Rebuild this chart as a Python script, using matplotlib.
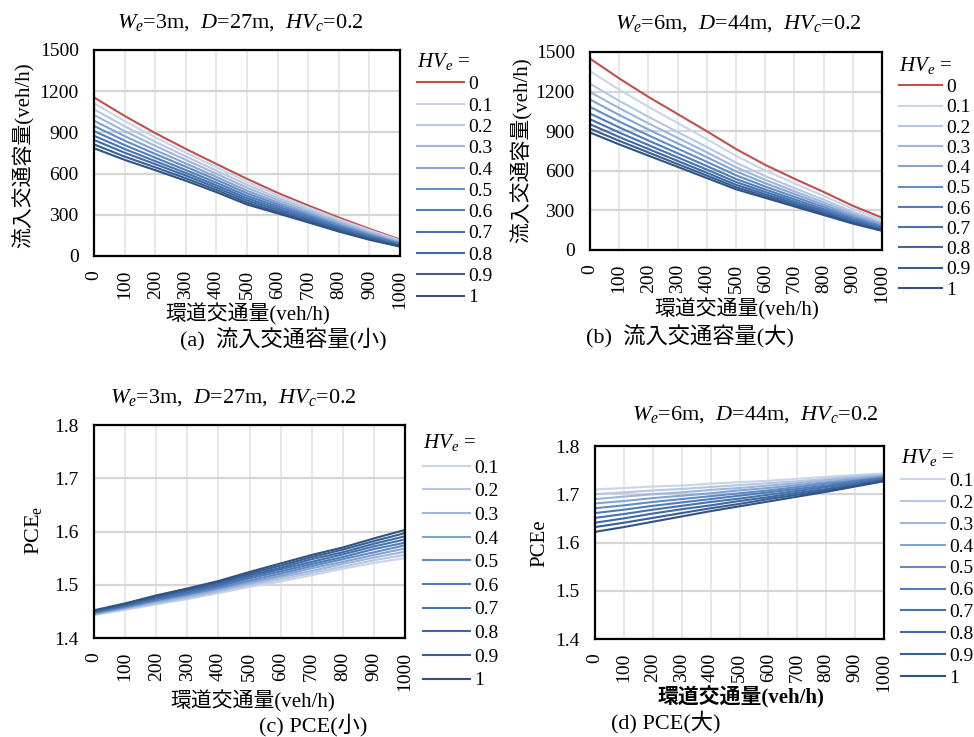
import matplotlib
matplotlib.use('Agg')
import matplotlib.pyplot as plt
import numpy as np

plt.rcParams['font.family'] = ['Liberation Serif', 'Noto Sans CJK JP']
plt.rcParams['mathtext.fontset'] = 'custom'
plt.rcParams['mathtext.rm'] = 'Liberation Serif'
plt.rcParams['mathtext.it'] = 'Liberation Serif:italic'

# ── DATA ────────────────────────────────────────────
flow = [0, 100, 200, 300, 400, 500, 600, 700, 800, 900, 1000]
hv_all = ['0', '0.1', '0.2', '0.3', '0.4', '0.5', '0.6', '0.7', '0.8', '0.9', '1']
hv_pce = hv_all[1:]

cap_small = [
    [1155, 1020, 895, 780, 670, 562, 460, 368, 280, 198, 120],
    [1112, 983, 864, 753, 646, 540, 443, 354, 268, 189, 114],
    [1068, 945, 832, 725, 622, 518, 425, 339, 256, 179, 108],
    [1027, 909, 802, 700, 599, 497, 408, 325, 245, 170, 102],
    [985, 873, 771, 674, 576, 476, 391, 312, 233, 161, 96],
    [947, 840, 743, 650, 555, 457, 376, 299, 223, 153, 91],
    [910, 808, 716, 626, 534, 438, 361, 287, 212, 145, 86],
    [876, 779, 691, 605, 515, 421, 347, 275, 203, 138, 81],
    [845, 752, 669, 586, 498, 405, 334, 265, 195, 131, 76],
    [813, 724, 646, 566, 481, 389, 321, 254, 186, 124, 72],
    [785, 700, 625, 548, 465, 375, 310, 245, 178, 118, 68],
]

cap_large = [
    [1450, 1300, 1160, 1030, 900, 765, 645, 540, 440, 335, 245],
    [1355, 1215, 1085, 962, 840, 713, 603, 505, 410, 312, 228],
    [1260, 1130, 1009, 894, 780, 662, 560, 469, 381, 289, 211],
    [1197, 1075, 959, 850, 740, 627, 532, 445, 361, 274, 200],
    [1140, 1023, 913, 808, 703, 596, 506, 424, 343, 260, 190],
    [1084, 973, 869, 768, 668, 566, 481, 403, 326, 247, 180],
    [1034, 929, 829, 733, 636, 538, 459, 384, 310, 235, 171],
    [991, 890, 795, 702, 609, 515, 440, 368, 297, 224, 163],
    [953, 856, 765, 675, 585, 494, 423, 354, 285, 215, 156],
    [920, 827, 739, 651, 564, 476, 408, 341, 274, 207, 150],
    [890, 800, 715, 630, 545, 460, 395, 330, 265, 200, 145],
]

pce_small = [
    [1.443, 1.453, 1.463, 1.473, 1.484, 1.496, 1.506, 1.518, 1.530, 1.541, 1.550],
    [1.444, 1.454, 1.465, 1.475, 1.487, 1.499, 1.510, 1.522, 1.534, 1.546, 1.556],
    [1.445, 1.456, 1.467, 1.477, 1.489, 1.502, 1.514, 1.526, 1.539, 1.551, 1.562],
    [1.446, 1.457, 1.469, 1.480, 1.492, 1.505, 1.517, 1.531, 1.543, 1.556, 1.568],
    [1.447, 1.458, 1.471, 1.482, 1.494, 1.508, 1.521, 1.535, 1.548, 1.561, 1.574],
    [1.448, 1.460, 1.472, 1.484, 1.497, 1.512, 1.525, 1.539, 1.552, 1.567, 1.579],
    [1.449, 1.461, 1.474, 1.486, 1.499, 1.515, 1.529, 1.543, 1.557, 1.572, 1.585],
    [1.450, 1.462, 1.476, 1.489, 1.502, 1.518, 1.532, 1.548, 1.561, 1.577, 1.591],
    [1.451, 1.464, 1.478, 1.491, 1.504, 1.521, 1.536, 1.552, 1.566, 1.582, 1.597],
    [1.452, 1.465, 1.480, 1.493, 1.507, 1.524, 1.540, 1.556, 1.570, 1.587, 1.603],
]

pce_large = [
    [1.710, 1.713, 1.716, 1.718, 1.722, 1.725, 1.728, 1.732, 1.736, 1.740, 1.743],
    [1.700, 1.704, 1.708, 1.711, 1.715, 1.719, 1.723, 1.727, 1.732, 1.737, 1.741],
    [1.690, 1.695, 1.700, 1.704, 1.709, 1.713, 1.718, 1.723, 1.729, 1.734, 1.739],
    [1.681, 1.686, 1.692, 1.697, 1.702, 1.708, 1.713, 1.719, 1.725, 1.731, 1.737],
    [1.671, 1.677, 1.684, 1.690, 1.696, 1.702, 1.708, 1.715, 1.722, 1.728, 1.735],
    [1.661, 1.668, 1.676, 1.683, 1.690, 1.697, 1.704, 1.711, 1.718, 1.726, 1.734],
    [1.651, 1.659, 1.668, 1.676, 1.684, 1.691, 1.699, 1.707, 1.715, 1.723, 1.732],
    [1.641, 1.650, 1.660, 1.669, 1.677, 1.686, 1.694, 1.703, 1.711, 1.720, 1.730],
    [1.632, 1.641, 1.651, 1.661, 1.671, 1.680, 1.690, 1.699, 1.708, 1.718, 1.728],
    [1.622, 1.632, 1.643, 1.654, 1.665, 1.675, 1.685, 1.695, 1.705, 1.716, 1.727],
]

red = '#C0504D'
blues = ['#C9D5E9', '#B5C7E3', '#9FB5DB', '#83A3D1', '#628CC5',
         '#4F7DBB', '#4673B0', '#3E69A3', '#385F94', '#305383']

W, H = 974, 737
fig = plt.figure(figsize=(W / 100, H / 100), dpi=100)


def box(l, t, r, b):
    return [l / W, 1 - b / H, (r - l) / W, (b - t) / H]


def fx(px):
    return px / W


def fy(py):
    return 1 - py / H


def style(ax, ylim, yticks, ylabels):
    ax.set_xlim(0, 1000)
    ax.set_ylim(*ylim)
    ax.set_xticks(flow)
    ax.set_xticklabels([str(v) for v in flow], rotation=90, fontsize=14)
    ax.set_yticks(yticks)
    ax.set_yticklabels(ylabels, fontsize=14)
    ax.tick_params(axis='x', length=0, pad=10)
    ax.tick_params(axis='y', length=0, pad=11)
    ax.grid(True, axis='x', color='#E4E4E4', lw=1.2)
    ax.grid(True, axis='y', color='#D6D6D6', lw=1.6)
    ax.set_axisbelow(True)
    for s in ax.spines.values():
        s.set_linewidth(1.6)
        s.set_color('black')


def legend(ax, x, y, spacing, hlen):
    leg = ax.legend(loc='upper left', bbox_to_anchor=(fx(x), fy(y)),
                    bbox_transform=fig.transFigure, frameon=False,
                    fontsize=14, title=r'$HV_e$ =', title_fontsize=15,
                    handlelength=hlen, handletextpad=0.25,
                    labelspacing=spacing, borderaxespad=0, borderpad=0)
    leg._legend_box.align = 'left'
    return leg


title_a = r'$W_e$=3m,  $D$=27m,  $HV_c$=0.2'
title_b = r'$W_e$=6m,  $D$=44m,  $HV_c$=0.2'
xlab = '環道交通量(veh/h)'
ylab_cap = '流入交通容量(veh/h)'

# (a)
ax = fig.add_axes(box(94, 50, 400, 256))
for i, s in enumerate(cap_small):
    ax.plot(flow, s, color=red if i == 0 else blues[i - 1], lw=1.5, label=hv_all[i])
style(ax, (0, 1500), range(0, 1501, 300), [str(v) for v in range(0, 1501, 300)])
legend(ax, 417, 51, 0.19, 2.4)
fig.text(fx(240), fy(23), title_a, ha='center', va='center', fontsize=16)
fig.text(fx(248), fy(314), xlab, ha='center', va='center', fontsize=15)
fig.text(fx(24), fy(155), ylab_cap, ha='center', va='center', rotation=90, fontsize=15)
fig.text(fx(283), fy(340), '(a)  流入交通容量(小)', ha='center', va='center', fontsize=16)

# (b)
ax = fig.add_axes(box(590, 52, 882, 250))
for i, s in enumerate(cap_large):
    ax.plot(flow, s, color=red if i == 0 else blues[i - 1], lw=1.5, label=hv_all[i])
style(ax, (0, 1500), range(0, 1501, 300), [str(v) for v in range(0, 1501, 300)])
legend(ax, 899, 55, 0.135, 2.2)
fig.text(fx(738), fy(24), title_b, ha='center', va='center', fontsize=16)
fig.text(fx(737), fy(309), xlab, ha='center', va='center', fontsize=15)
fig.text(fx(522), fy(150), ylab_cap, ha='center', va='center', rotation=90, fontsize=15)
fig.text(fx(690), fy(337), '(b)  流入交通容量(大)', ha='center', va='center', fontsize=16)

pce_ticks = [1.4, 1.5, 1.6, 1.7, 1.8]
pce_labels = ['1.4', '1.5', '1.6', '1.7', '1.8']

# (c)
ax = fig.add_axes(box(94, 425, 405, 638))
for i, s in enumerate(pce_small):
    ax.plot(flow, s, color=blues[i], lw=1.5, label=hv_pce[i])
style(ax, (1.4, 1.8), pce_ticks, pce_labels)
legend(ax, 423, 432, 0.31, 2.4)
fig.text(fx(233), fy(398), title_a, ha='center', va='center', fontsize=16)
fig.text(fx(253), fy(701), xlab, ha='center', va='center', fontsize=15)
fig.text(fx(34), fy(530), r'PCE$_\mathrm{e}$', ha='center', va='center', rotation=90, fontsize=16)
fig.text(fx(313), fy(725), '(c) PCE(小)', ha='center', va='center', fontsize=16)

# (d)
ax = fig.add_axes(box(595, 446, 884, 639))
for i, s in enumerate(pce_large):
    ax.plot(flow, s, color=blues[i], lw=1.5, label=hv_pce[i])
style(ax, (1.4, 1.8), pce_ticks, pce_labels)
legend(ax, 901, 447, 0.22, 2.25)
fig.text(fx(755), fy(415), title_b, ha='center', va='center', fontsize=16)
fig.text(fx(741), fy(697), xlab, ha='center', va='center', fontsize=15, fontweight='bold')
fig.text(fx(540), fy(543), 'PCEe', ha='center', va='center', rotation=90, fontsize=15)
fig.text(fx(666), fy(722), '(d) PCE(大)', ha='center', va='center', fontsize=16)

fig.savefig('out.png', dpi=100)
plt.close(fig)
